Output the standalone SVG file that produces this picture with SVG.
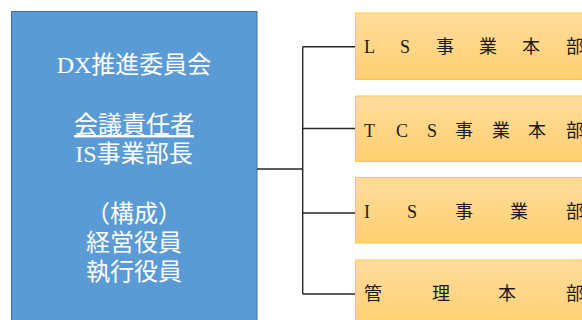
<svg xmlns="http://www.w3.org/2000/svg" width="582" height="320" viewBox="0 0 582 320">
<defs>
<linearGradient id="og" x1="0" y1="0" x2="0" y2="1">
<stop offset="0" stop-color="#FFDC9E"/>
<stop offset="1" stop-color="#FFD06E"/>
</linearGradient>
<style>
.blue{fill:#5B9BD5;stroke:#41719C;stroke-width:1}
.org{fill:url(#og);stroke:#FFC53D;stroke-width:1}
.wt{fill:#FFFFFF;font-family:"Liberation Serif","Noto Sans CJK JP",serif;font-size:24px;text-anchor:middle}
.dt{fill:#1A1A1A;font-family:"Liberation Serif","Noto Sans CJK JP",serif;font-size:18px}
.con{fill:none;stroke:#262626;stroke-width:1.4}
</style>
</defs>
<rect width="582" height="320" fill="#FFFFFF"/>
<g id="committee">
<rect class="blue" x="11.5" y="11.5" width="245.5" height="320"/>
<text class="wt" x="134" y="73">DX推進委員会</text>
<text class="wt" x="134" y="133" text-decoration="underline">会議責任者</text>
<text class="wt" x="134" y="162">IS事業部長</text>
<text class="wt" x="134" y="222">（構成）</text>
<text class="wt" x="134" y="251">経営役員</text>
<text class="wt" x="134" y="280">執行役員</text>
</g>
<g id="connectors">
<path class="con" d="M257 169 H302.7"/>
<path class="con" d="M302.7 46.7 V294 M302.7 46.7 H355.5 M302.7 128.5 H355.5 M302.7 213 H355.5 M302.7 294 H355.5"/>
</g>
<g id="ls">
<rect class="org" x="355.5" y="13" width="240" height="66.5"/>
<text class="dt" x="364 400 436 479 522 566" y="53">LS事業本部</text>
</g>
<g id="tcs">
<rect class="org" x="355.5" y="96" width="240" height="65.5"/>
<text class="dt" x="364 396 427 455 492 528 566" y="137">TCS事業本部</text>
</g>
<g id="is">
<rect class="org" x="355.5" y="177.5" width="240" height="65.5"/>
<text class="dt" x="364 407 455 510 566" y="218">IS事業部</text>
</g>
<g id="kanri">
<rect class="org" x="355.5" y="260" width="240" height="70"/>
<text class="dt" x="364 432 498 566" y="300">管理本部</text>
</g>
</svg>
